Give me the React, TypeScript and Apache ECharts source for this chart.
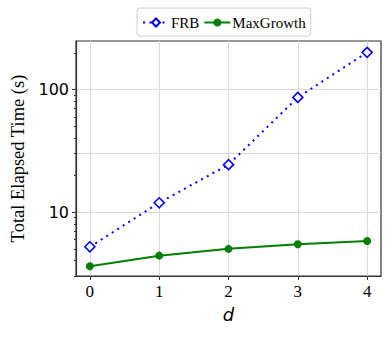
import React, { useEffect, useRef } from "react";
import * as echarts from "echarts";

const dValues = [0, 1, 2, 3, 4];
const frbTimes = [5.2, 11.9, 24.4, 86.5, 202];
const maxGrowthTimes = [3.6, 4.4, 5.0, 5.45, 5.8];
const yMajorTicks = [10, 100];
const yMinorTicks = [3, 4, 5, 6, 7, 8, 9, 20, 30, 40, 50, 60, 70, 80, 90, 200];
const yGridValues = [10, 30, 100];

const SERIF = "Liberation Serif";

export default function App() {
  const ref = useRef<HTMLDivElement>(null);
  useEffect(() => {
    if (!ref.current) return;
    const chart = echarts.init(ref.current, undefined, { renderer: "svg" });
    const yBase = { type: "log", logBase: 10, min: 3, max: 250, position: "left" };
    chart.setOption({
      animation: false,
      grid: {
        left: 76,
        top: 41,
        width: 305,
        height: 235,
        show: true,
        borderColor: "#333",
        borderWidth: 1.2,
        backgroundColor: "transparent",
      },
      legend: {
        top: 8,
        left: 137,
        itemGap: 4,
        itemWidth: 26,
        itemHeight: 10,
        padding: [7, 5, 6, 5],
        borderColor: "#d0d0d0",
        borderWidth: 1,
        borderRadius: 3,
        textStyle: { fontFamily: SERIF, fontSize: 15, color: "#000", padding: [0, 0, 0, -3] },
        data: ["FRB", "MaxGrowth"],
      },
      xAxis: {
        type: "value",
        min: -0.2,
        max: 4.2,
        name: "d",
        nameLocation: "middle",
        nameGap: 29,
        nameTextStyle: { fontFamily: "DejaVu Sans", fontStyle: "italic", fontSize: 18, color: "#000" },
        axisLine: { show: true, onZero: false, lineStyle: { color: "#333", width: 1.2 } },
        axisTick: { show: true, length: 4, customValues: dValues, lineStyle: { color: "#333" } },
        axisLabel: { customValues: dValues, fontFamily: SERIF, fontSize: 17, color: "#000", margin: 7 },
        splitLine: { show: true, lineStyle: { color: "#d9d9d9", width: 1 } },
      },
      yAxis: [
        {
          ...yBase,
          name: "Total Elapsed Time (s)",
          nameLocation: "middle",
          nameGap: 48,
          nameRotate: 90,
          nameTextStyle: { fontFamily: SERIF, fontSize: 18.5, color: "#000" },
          axisLine: { show: true, onZero: false, lineStyle: { color: "#333", width: 1.2 } },
          axisTick: { show: true, length: 4, customValues: yMajorTicks, lineStyle: { color: "#333" } },
          axisLabel: { customValues: yMajorTicks, fontFamily: "DejaVu Sans", fontSize: 16, color: "#000", margin: 7 },
          splitLine: { show: false },
        },
        {
          ...yBase,
          axisLine: { show: false, onZero: false },
          axisTick: { show: true, length: 2, customValues: yMinorTicks, lineStyle: { color: "#333" } },
          axisLabel: { show: false },
          splitLine: { show: false },
        },
        {
          ...yBase,
          axisLine: { show: false, onZero: false },
          axisTick: { show: false, customValues: yGridValues },
          axisLabel: { show: false },
          splitLine: { show: true, lineStyle: { color: "#d9d9d9", width: 1 } },
        },
      ],
      series: [
        {
          name: "FRB",
          type: "line",
          yAxisIndex: 0,
          data: dValues.map((d, i) => [d, frbTimes[i]]),
          symbol: "diamond",
          symbolSize: 10,
          showAllSymbol: true,
          lineStyle: { color: "#0000ff", width: 2, type: [2, 4.5] as any },
          itemStyle: { color: "#ffffff", borderColor: "#0000ff", borderWidth: 1.6 },
          z: 3,
        },
        {
          name: "MaxGrowth",
          type: "line",
          yAxisIndex: 0,
          data: dValues.map((d, i) => [d, maxGrowthTimes[i]]),
          symbol: "circle",
          symbolSize: 8,
          lineStyle: { color: "#008000", width: 2 },
          itemStyle: { color: "#008000", borderColor: "#008000", borderWidth: 0 },
          z: 2,
        },
      ],
    });
    return () => chart.dispose();
  }, []);
  return <div ref={ref} style={{ width: 391, height: 337, position: "absolute", left: 0, top: 0 }} />;
}
